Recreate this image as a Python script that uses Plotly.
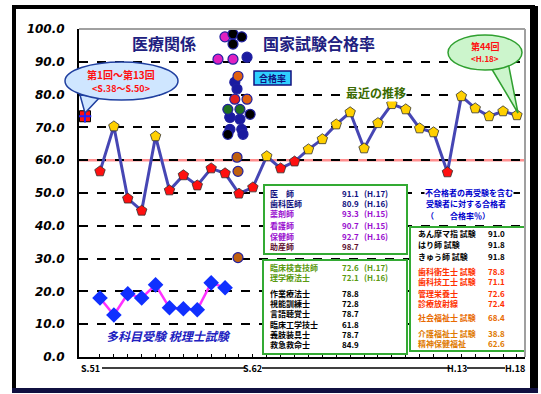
import plotly.graph_objects as go

# ---------------- data ----------------
idx = list(range(1, 32))
main_rate = [56.6, 70.3, 48.3, 44.6, 67.3, 50.8, 55.4, 52.3, 57.5, 56.0,
             49.8, 51.7, 61.2, 57.5, 59.6, 63.3, 66.4, 70.9, 74.6, 63.6,
             71.3, 77.1, 75.5, 69.7, 68.5, 56.3, 79.5, 75.8, 73.4, 74.9, 73.7]
pass_line = 60.0

sub_idx = list(range(1, 11))
sub_rate = [18.0, 12.8, 19.3, 18.0, 22.0, 15.0, 14.7, 14.4, 22.6, 21.1]

first_avg_x = [-0.08]
first_avg = [73.4]

cluster_x = [10.35, 11.2, 10.35, 11.07, 10.7, 10.86, 11.29, 10.35,
             9.99, 10.57, 11.2, 10.57, 9.49, 10.57, 11.58, 10.93, 10.7,
             11.58, 10.2, 11.07, 11.8, 10.2, 10.86, 10.93, 10.93]
cluster_val = [69.4, 69.4, 73.1, 72.5, 83.8, 81.7, 67.9, 73.1,
               97.6, 98.5, 97.6, 95.4, 90.8, 90.8, 91.4, 85.6, 78.6,
               78.6, 75.5, 75.5, 74.0, 67.9, 60.9, 56.6, 30.3]
cluster_col = ["#1a1aa0", "#1a1aa0", "#1a1aa0", "#1a1aa0", "#1a1aa0", "#1a1aa0", "#1a1aa0", "#1a1aa0",
               "#e020c0", "#000000", "#000000", "#000000", "#e020c0", "#e020c0", "#1a1aa0", "#e06010", "#e02020",
               "#e06010", "#207020", "#207020", "#000000", "#000000", "#c06010", "#c06010", "#c06010"]

y_ticks = [0, 10, 20, 30, 40, 50, 60, 70, 80, 90, 100]

era_labels = ["S.51", "S.62", "H.13", "H.18"]
era_x = [90, 252, 457, 515]

table1 = [("医　師", "91.1", "(H.17)", "#101080"),
          ("歯科医師", "80.9", "(H.16)", "#101080"),
          ("薬剤師", "93.3", "(H.15)", "#9a10d0"),
          ("看護師", "90.7", "(H.15)", "#9a10d0"),
          ("保健師", "92.7", "(H.16)", "#9a10d0"),
          ("助産師", "98.7", "", "#601030")]
table2 = [("臨床検査技師", "72.6", "(H.17)", "#5a9a10"),
          ("理学療法士", "72.1", "(H.16)", "#5a9a10"),
          ("作業療法士", "78.8", "", "#000000"),
          ("視能訓練士", "72.8", "", "#000000"),
          ("言語聴覚士", "78.7", "", "#000000"),
          ("臨床工学技士", "61.8", "", "#000000"),
          ("義肢装具士", "78.7", "", "#000000"),
          ("救急救命士", "84.9", "", "#000000")]
table3 = [("あん摩マ指 試験", "91.0", "#000000"),
          ("はり師 試験", "91.8", "#000000"),
          ("きゅう師 試験", "91.8", "#000000"),
          ("歯科衛生士 試験", "78.8", "#ff3000"),
          ("歯科技工士 試験", "71.1", "#ff3000"),
          ("管理栄養士", "72.6", "#ff3000"),
          ("診療放射線", "72.4", "#ff3000"),
          ("社会福祉士 試験", "68.4", "#e86a00"),
          ("介護福祉士 試験", "38.8", "#e07a00"),
          ("精神保健福祉", "62.6", "#e07a00")]

# ---------------- layout helpers ----------------
W, H = 541, 394
PL, PR, PT, PB = 79, 525, 29, 357


def px(x):
    return (x - PL) / (PR - PL)


def py(y):
    return (PB - y) / (PB - PT)


JP = "Noto Sans CJK JP"
fig = go.Figure()

# main series
fig.add_trace(go.Scatter(x=idx, y=main_rate, mode="lines",
                         line=dict(color="#4646b4", width=3), hoverinfo="skip"))
colors = ["#ffd000" if v >= pass_line else "#ff1010" for v in main_rate]
fig.add_trace(go.Scatter(x=idx, y=main_rate, mode="markers",
                         marker=dict(symbol="pentagon", size=11, color=colors,
                                     line=dict(color="#303030", width=0.8))))
# lower series
fig.add_trace(go.Scatter(x=sub_idx, y=sub_rate, mode="lines+markers",
                         line=dict(color="#ff30ff", width=2.5),
                         marker=dict(symbol="diamond", size=12, color="#1030ff",
                                     line=dict(color="#1030ff", width=0))))
# first average marker
fig.add_trace(go.Scatter(x=first_avg_x, y=first_avg, mode="markers",
                         marker=dict(symbol="square", size=11, color="#ff1010",
                                     line=dict(color="#000000", width=1))))
fig.add_trace(go.Scatter(x=first_avg_x, y=first_avg, mode="markers",
                         marker=dict(symbol="cross-thin", size=9,
                                     line=dict(color="#2020ff", width=2))))
# cluster
fig.add_trace(go.Scatter(x=cluster_x, y=cluster_val, mode="markers",
                         marker=dict(symbol="circle", size=10, color=cluster_col,
                                     line=dict(color="#2020a0", width=1.2))))

shapes = []
# pass line
shapes.append(dict(type="line", xref="paper", yref="y", x0=0, x1=1, y0=pass_line, y1=pass_line,
                   line=dict(color="#ff9090", width=2.5), layer="below"))
# tables boxes
for (x0, y0, x1, y1) in [(264, 185, 407, 254), (263, 260, 407, 354), (410, 227, 525, 351)]:
    shapes.append(dict(type="rect", xref="paper", yref="paper",
                       x0=px(x0), x1=px(x1), y0=py(y1), y1=py(y0),
                       fillcolor="white", line=dict(color="#33aa33", width=2), layer="above"))
# bubbles: tails then ellipses
shapes.append(dict(type="path", xref="paper", yref="paper",
                   path=f"M {px(80)},{py(95)} L {px(85)},{py(113)} L {px(100)},{py(97)} Z",
                   fillcolor="#cfe6ff", line=dict(color="#2040a0", width=1.5), layer="above"))
shapes.append(dict(type="circle", xref="paper", yref="paper",
                   x0=px(65), x1=px(178), y0=py(100), y1=py(62),
                   fillcolor="#cfe6ff", line=dict(color="#2040a0", width=1.5), layer="above"))
shapes.append(dict(type="path", xref="paper", yref="paper",
                   path=f"M {px(490)},{py(66)} L {px(518)},{py(113)} L {px(508)},{py(62)} Z",
                   fillcolor="#ccf5cc", line=dict(color="#30a030", width=1.5), layer="above"))
shapes.append(dict(type="circle", xref="paper", yref="paper",
                   x0=px(448), x1=px(522), y0=py(70), y1=py(35),
                   fillcolor="#ccf5cc", line=dict(color="#30a030", width=1.5), layer="above"))
# cyan label
shapes.append(dict(type="rect", xref="paper", yref="paper",
                   x0=px(254), x1=px(291), y0=py(85), y1=py(71),
                   fillcolor="#30d0ff", line=dict(color="#101080", width=1.5), layer="above"))
# timeline under plot
for (a, b) in [(102, 245), (262, 450), (467, 505)]:
    shapes.append(dict(type="line", xref="paper", yref="paper",
                       x0=px(a), x1=px(b), y0=py(368), y1=py(368),
                       line=dict(color="black", width=1.5)))
# outer frame
shapes.append(dict(type="rect", xref="paper", yref="paper",
                   x0=px(14), x1=px(533), y0=py(390), y1=py(7),
                   line=dict(color="black", width=4)))
shapes.append(dict(type="rect", xref="paper", yref="paper",
                   x0=px(530), x1=px(538), y0=py(393), y1=py(6),
                   fillcolor="black", line=dict(width=0)))
shapes.append(dict(type="rect", xref="paper", yref="paper",
                   x0=px(12), x1=px(538), y0=py(393), y1=py(388),
                   fillcolor="#101040", line=dict(width=0)))

ann = []


def txt(x, y, s, color, size, xanchor="center", bold=True, italic=False, family=JP, bg=None):
    d = dict(xref="paper", yref="paper", x=px(x), y=py(y), text=s,
             showarrow=False, xanchor=xanchor, yanchor="middle",
             font=dict(family=family, size=size, color=color,
                       weight="bold" if bold else "normal",
                       style="italic" if italic else "normal"))
    if bg:
        d["bgcolor"] = bg
        d["borderpad"] = 0
    ann.append(d)


txt(164, 43, "医療関係", "#202080", 16)
txt(319, 43, "国家試験合格率", "#202080", 16)
txt(272, 78, "合格率", "#101080", 9)
txt(376, 93, "最近の推移", "#3a6a00", 12, bg="white")
txt(121, 74, "第1回〜第13回", "#ff1010", 10)
txt(121, 88, "<S.38〜S.50>", "#ff1010", 9)
txt(485, 46, "第44回", "#ff1010", 9)
txt(485, 59, "<H.18>", "#ff1010", 8)
txt(168, 335, "多科目受験 税理士試験", "#2020c0", 12, italic=True)
txt(424, 192, "不合格者の再受験を含む", "#0000cc", 8, xanchor="left", bg="white")
txt(424, 204, "受験者に対する合格者", "#0000cc", 8, xanchor="left")
txt(424, 215, "（　　合格率％）", "#0000cc", 8, xanchor="left")

rows1_y = [193, 203, 213, 225, 236, 247]
for (name, v, yr, c), yy in zip(table1, rows1_y):
    txt(268, yy, name, c, 8, xanchor="left")
    txt(340, yy, v, c, 8, xanchor="left")
    if yr:
        txt(362, yy, yr, c, 8, xanchor="left")
rows2_y = [267, 277, 293, 303, 313, 324, 334, 344]
for (name, v, yr, c), yy in zip(table2, rows2_y):
    txt(268, yy, name, c, 8, xanchor="left")
    txt(340, yy, v, c, 8, xanchor="left")
    if yr:
        txt(362, yy, yr, c, 8, xanchor="left")
rows3_y = [233, 245, 256, 271, 281, 293, 303, 317, 333, 343]
for (name, v, c), yy in zip(table3, rows3_y):
    txt(416, yy, name, c, 8, xanchor="left")
    txt(486, yy, v, c, 8, xanchor="left")

for lab, xx in zip(era_labels, era_x):
    txt(xx, 368, lab, "black", 9)

fig.update_layout(
    width=W, height=H, margin=dict(l=PL, r=W - PR, t=PT, b=H - PB),
    paper_bgcolor="white", plot_bgcolor="white", showlegend=False,
    shapes=shapes, annotations=ann,
    xaxis=dict(range=[-0.51, 31.58], showgrid=False, zeroline=False,
               showticklabels=False, ticks="inside", ticklen=3, tickcolor="black",
               tickvals=idx, showline=True, linecolor="black", linewidth=2, mirror=False),
    yaxis=dict(range=[0, 100], tickvals=y_ticks, tickformat=".1f",
               showgrid=True, gridcolor="black", griddash="dash", gridwidth=1.5,
               zeroline=False, showline=True, linecolor="black", linewidth=2,
               ticks="", ticklabelstandoff=10,
               tickfont=dict(family="DejaVu Sans", size=12, color="black",
                             style="italic", weight="bold")),
)
# gray top/right frame
fig.add_shape(type="line", xref="paper", yref="paper", x0=0, x1=1, y0=1, y1=1,
              line=dict(color="#a0a0a0", width=2))
fig.add_shape(type="line", xref="paper", yref="paper", x0=1, x1=1, y0=0, y1=1,
              line=dict(color="#a0a0a0", width=2))

fig.write_html("out.html")
